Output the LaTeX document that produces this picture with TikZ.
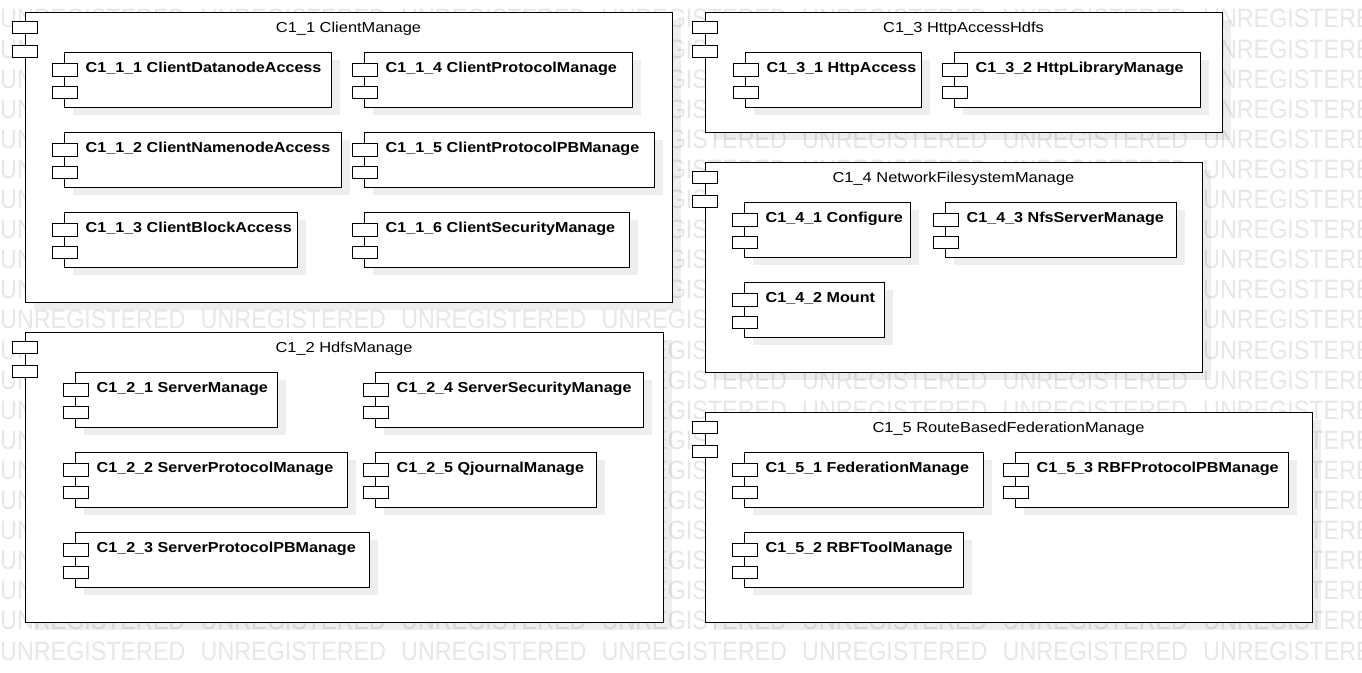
\documentclass[tikz,border=0pt]{standalone}
\usepackage{fontspec}
\setmainfont{Liberation Sans}
\newfontfamily\titlefont{Liberation Sans}[FakeStretch=1.14]
\newfontfamily\labfont{Liberation Sans}[FakeStretch=1.12]
\newfontfamily\wmfont{Liberation Sans}[FakeStretch=0.88]
\definecolor{wmgray}{gray}{0.905}
\tikzset{
  boxline/.style={draw=black, line width=1pt, fill=white},
  outbox/.style={boxline, rectangle, anchor=north west, inner sep=0pt, outer sep=0pt},
  inbox/.style={boxline, rectangle, anchor=north west, inner sep=0pt, outer sep=0pt},
  iconbox/.style={draw=black, line width=1pt, fill=white},
  shadowfill/.style={fill=black, opacity=0.065},
  titletext/.style={font=\titlefont\fontsize{14.4}{16}\selectfont, inner sep=0pt, anchor=base},
  labtext/.style={font=\labfont\bfseries\fontsize{14.4}{16}\selectfont, inner sep=0pt, anchor=base west},
  wmtext/.style={font=\wmfont\fontsize{26.5}{30}\selectfont, text=wmgray, inner sep=0pt, anchor=base west},
}
% name, x, y, w, h, text
\newcommand\outcomp[6]{%
  \fill[shadowfill] (#2+9,#3+8) rectangle (#2+#4+9,#3+#5+8);
  \node[outbox, minimum width=#4pt, minimum height=#5pt] (#1) at (#2,#3) {};
  \draw[iconbox] (#2-12.5,#3+9) rectangle (#2+12,#3+21);
  \draw[iconbox] (#2-12.5,#3+33.5) rectangle (#2+12,#3+45.5);
  \node[titletext] (#1t) at (#2+#4/2,#3+20.7) {#6};
}
\newcommand\incomp[6]{%
  \fill[shadowfill] (#2+9,#3+8) rectangle (#2+#4+9,#3+#5+8);
  \node[inbox, minimum width=#4pt, minimum height=#5pt] (#1) at (#2,#3) {};
  \draw[iconbox] (#2-12,#3+11.5) rectangle (#2+13,#3+24);
  \draw[iconbox] (#2-12,#3+34) rectangle (#2+13,#3+46.5);
  \node[labtext] (#1t) at (#2+21.5,#3+20.4) {#6};
}
\begin{document}
\begin{tikzpicture}[x=1pt,y=-1pt]
\useasboundingbox (0,0) rectangle (1362,672);
\fill[white] (0,0) rectangle (1362,672);
% watermark
\foreach \r in {0,...,21}{
  \foreach \c in {0,...,6}{
    \node[wmtext] (wm-\r-\c) at (200.5*\c, 660-30.1*\r) {UNREGISTERED};
  }
}
% C1_1
\outcomp{c11}{25}{12}{647}{290}{C1\_1 ClientManage}
\incomp{c111}{64}{52}{267}{55}{C1\_1\_1 ClientDatanodeAccess}
\incomp{c114}{364}{52}{268}{55}{C1\_1\_4 ClientProtocolManage}
\incomp{c112}{64}{132}{277}{55}{C1\_1\_2 ClientNamenodeAccess}
\incomp{c115}{364}{132}{290}{55}{C1\_1\_5 ClientProtocolPBManage}
\incomp{c113}{64}{212}{233}{55}{C1\_1\_3 ClientBlockAccess}
\incomp{c116}{364}{212}{265}{55}{C1\_1\_6 ClientSecurityManage}
% C1_2
\outcomp{c12}{25}{332}{638}{290}{C1\_2 HdfsManage}
\incomp{c121}{75}{372}{202}{55}{C1\_2\_1 ServerManage}
\incomp{c124}{375}{372}{268}{55}{C1\_2\_4 ServerSecurityManage}
\incomp{c122}{75}{452}{272}{55}{C1\_2\_2 ServerProtocolManage}
\incomp{c125}{375}{452}{221}{55}{C1\_2\_5 QjournalManage}
\incomp{c123}{75}{532}{294}{55}{C1\_2\_3 ServerProtocolPBManage}
% C1_3
\outcomp{c13}{705}{12}{517}{120}{C1\_3 HttpAccessHdfs}
\incomp{c131}{745}{52}{176}{55}{C1\_3\_1 HttpAccess}
\incomp{c132}{954}{52}{246}{55}{C1\_3\_2 HttpLibraryManage}
% C1_4
\outcomp{c14}{705}{162}{497}{210}{C1\_4 NetworkFilesystemManage}
\incomp{c141}{744}{202}{166}{55}{C1\_4\_1 Configure}
\incomp{c143}{945}{202}{231}{55}{C1\_4\_3 NfsServerManage}
\incomp{c142}{744}{282}{140}{55}{C1\_4\_2 Mount}
% C1_5
\outcomp{c15}{705}{412}{607}{210}{C1\_5 RouteBasedFederationManage}
\incomp{c151}{744}{452}{239}{55}{C1\_5\_1 FederationManage}
\incomp{c153}{1015}{452}{273}{55}{C1\_5\_3 RBFProtocolPBManage}
\incomp{c152}{744}{532}{219}{55}{C1\_5\_2 RBFToolManage}
\end{tikzpicture}
\end{document}
